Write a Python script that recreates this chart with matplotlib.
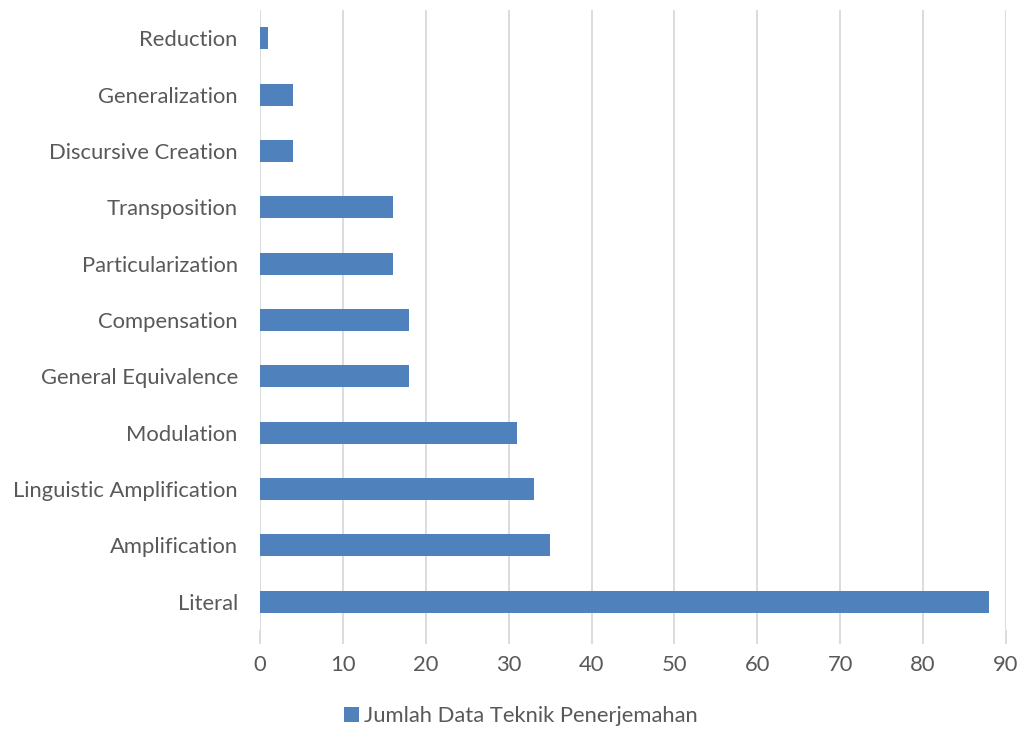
import matplotlib
matplotlib.use('Agg')
import matplotlib.pyplot as plt

# Data (bottom to top)
categories = ['Literal', 'Amplification', 'Linguistic Amplification', 'Modulation',
              'General Equivalence', 'Compensation', 'Particularization',
              'Transposition', 'Discursive Creation', 'Generalization', 'Reduction']
values = [88, 35, 33, 31, 18, 18, 16, 16, 4, 4, 1]
series_name = 'Jumlah Data Teknik Penerjemahan'
x_ticks = list(range(0, 100, 10))

plt.rcParams['font.family'] = ['Lato', 'DejaVu Sans']
text_color = '#595959'
grid_color = '#d9d9d9'
bar_color = '#4f81bd'

fig = plt.figure(figsize=(10.21, 7.29), dpi=100)
ax = fig.add_axes([0.2547, 0.1358, 0.7306, 0.8505])

ax.barh(categories, values, height=0.39, color=bar_color, zorder=2, label=series_name)

ax.set_xlim(0, 90)
ax.set_ylim(-0.5, len(categories) - 0.5)
ax.set_xticks(x_ticks)
ax.grid(axis='x', color=grid_color, linewidth=1.3, zorder=0)
for s in ax.spines.values():
    s.set_visible(False)

ax.tick_params(axis='x', length=10, width=1.3, color=grid_color, labelsize=15.8,
               labelcolor=text_color, pad=8)
ax.tick_params(axis='y', length=0, labelsize=15.8, labelcolor=text_color, pad=16)

fig.legend(loc='center', bbox_to_anchor=(0.51, 0.018), frameon=False, fontsize=15.8,
           labelcolor=text_color, handlelength=0.7, handleheight=0.7, handletextpad=0.2)

fig.savefig('out.png', dpi=100)
